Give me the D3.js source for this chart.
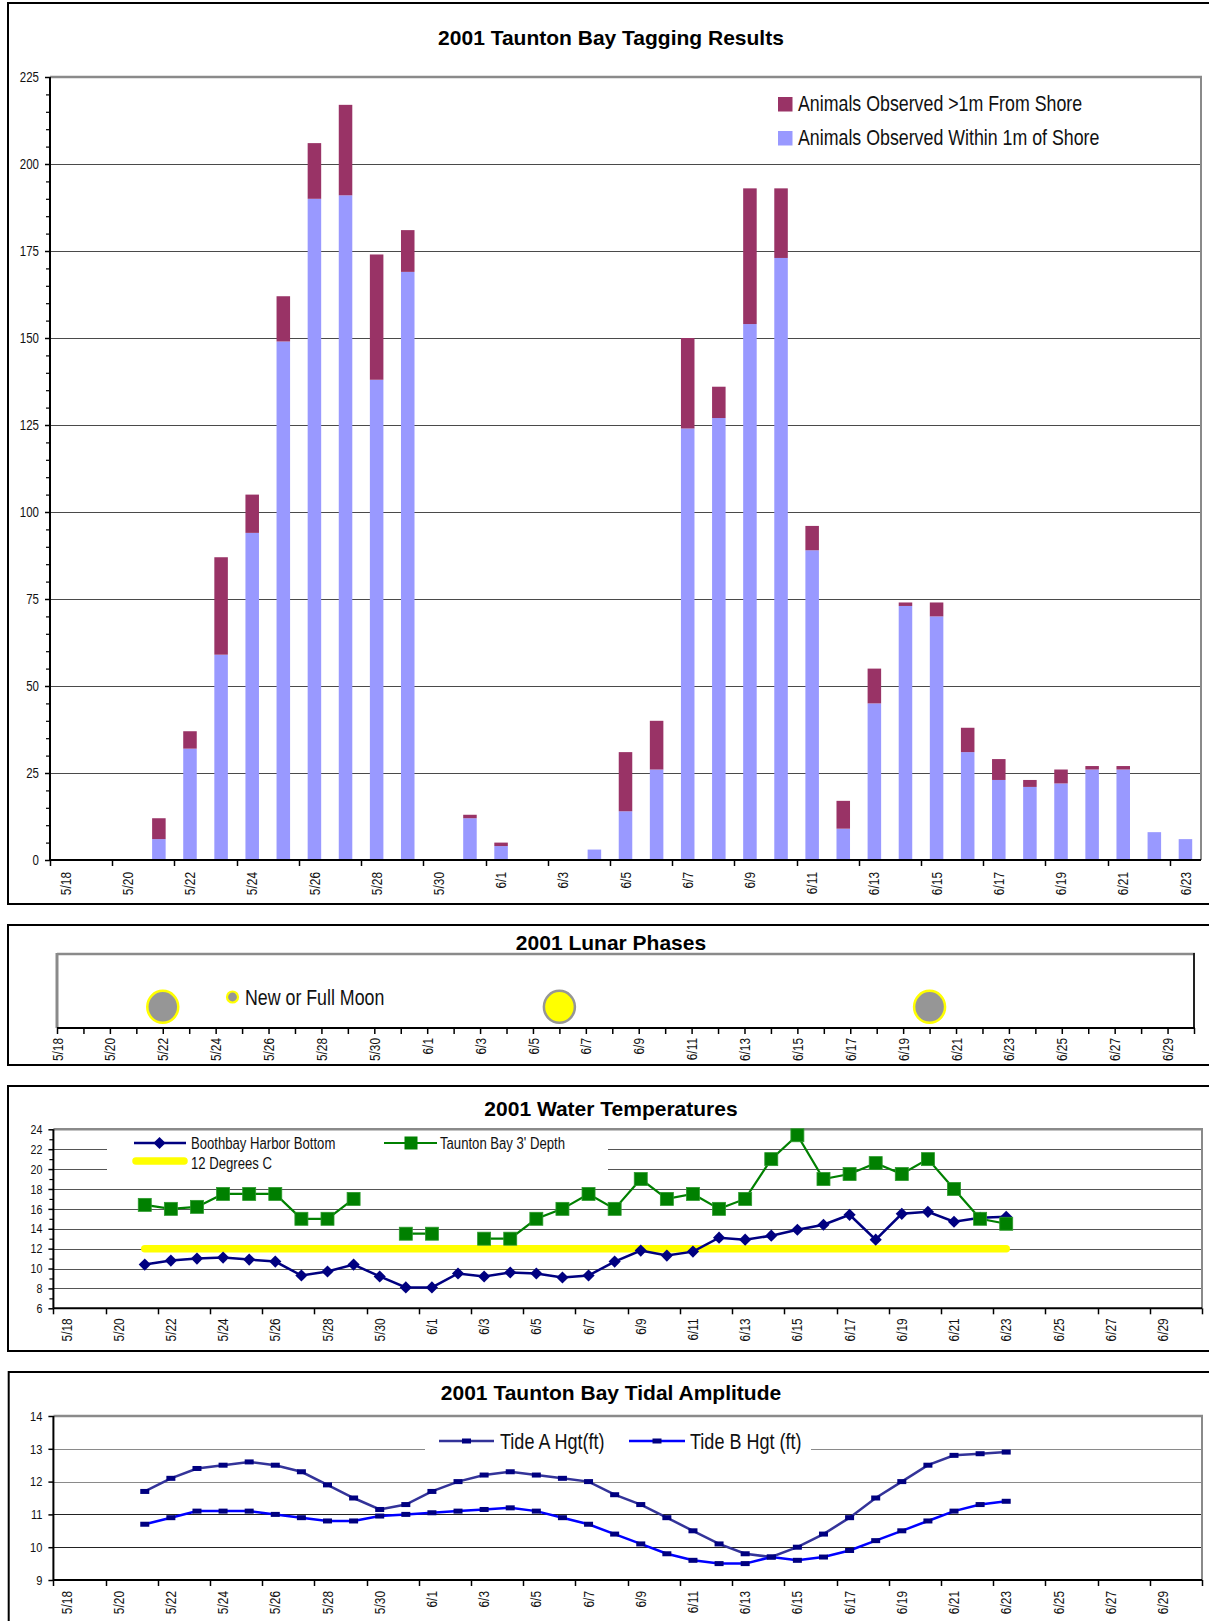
<!DOCTYPE html>
<html><head><meta charset="utf-8">
<script src="https://cdn.jsdelivr.net/npm/d3@7"></script>
<style>
body{margin:0;background:#fff;}
svg{display:block;}
text{font-family:"Liberation Sans",Arial,sans-serif;fill:#111;}
.title{font-family:"Liberation Sans",Arial,sans-serif;font-weight:bold;font-size:21px;fill:#000;}
</style></head><body>
<svg id="c" width="1209" height="1621"></svg>
<script>
// ================= DATA =================
// Chart 1: tagging results
const tagDates=["5/18","5/19","5/20","5/21","5/22","5/23","5/24","5/25","5/26","5/27","5/28","5/29","5/30","5/31",
"6/1","6/2","6/3","6/4","6/5","6/6","6/7","6/8","6/9","6/10","6/11","6/12","6/13","6/14","6/15","6/16","6/17","6/18","6/19","6/20","6/21","6/22","6/23"];
const withinShore=[0,0,0,6,32,59,94,149,190,191,138,169,0,12,4,0,0,3,14,26,124,127,154,173,89,9,45,73,70,31,23,21,22,26,26,8,6];
const beyondShore=[0,0,0,6,5,28,11,13,16,26,36,12,0,1,1,0,0,0,17,14,26,9,39,20,7,8,10,1,4,7,6,2,4,1,1,0,0];
const tagYTicks=[0,25,50,75,100,125,150,175,200,225];
const tagSeries=["Animals Observed >1m From Shore","Animals Observed Within 1m of Shore"];

// Chart 2: lunar phases
const lunarStart="2001-05-18", lunarEnd="2001-06-30";
const moonDates=["2001-05-22","2001-06-06","2001-06-20"];
const moonPhases=["new","full","new"];
const moonLevel=[1,1,1];
const lunarLegend="New or Full Moon";

// Charts 3 & 4: shared category axis
const seasonDates=["5/18","5/19","5/20","5/21","5/22","5/23","5/24","5/25","5/26","5/27","5/28","5/29","5/30","5/31",
"6/1","6/2","6/3","6/4","6/5","6/6","6/7","6/8","6/9","6/10","6/11","6/12","6/13","6/14","6/15","6/16","6/17","6/18","6/19","6/20",
"6/21","6/22","6/23","6/24","6/25","6/26","6/27","6/28","6/29","6/30"];

// Chart 3: water temperatures
const boothbayBottom=[null,null,null,10.4,10.8,11.0,11.1,10.9,10.7,9.3,9.7,10.4,9.2,8.1,
8.1,9.5,9.2,9.6,9.5,9.1,9.3,10.7,11.8,11.3,11.7,13.1,12.9,13.3,13.9,14.4,15.4,12.9,15.5,15.7,14.7,15.1,15.2,
null,null,null,null,null,null,null];
const tauntonDepth=[null,null,null,16.4,16.0,16.2,17.5,17.5,17.5,15.0,15.0,17.0,null,13.5,
13.5,null,13.0,13.0,15.0,16.0,17.5,16.0,19.0,17.0,17.5,16.0,17.0,21.0,23.4,19.0,19.5,20.6,19.5,21.0,18.0,15.0,14.5,
null,null,null,null,null,null,null];
const twelveDegrees=[null,null,null,12,12,12,12,12,12,12,12,12,12,12,
12,12,12,12,12,12,12,12,12,12,12,12,12,12,12,12,12,12,12,12,12,12,12,
null,null,null,null,null,null,null];
const tempYTicks=[6,8,10,12,14,16,18,20,22,24];
const tempSeries=["Boothbay Harbor Bottom","Taunton Bay 3' Depth","12 Degrees C"];

// Chart 4: tidal amplitude
const tideA=[null,null,null,11.7,12.1,12.4,12.5,12.6,12.5,12.3,11.9,11.5,11.15,11.3,
11.7,12.0,12.2,12.3,12.2,12.1,12.0,11.6,11.3,10.9,10.5,10.1,9.8,9.7,10.0,10.4,10.9,11.5,12.0,12.5,12.8,12.85,12.9,
null,null,null,null,null,null,null];
const tideB=[null,null,null,10.7,10.9,11.1,11.1,11.1,11.0,10.9,10.8,10.8,10.95,11.0,
11.05,11.1,11.15,11.2,11.1,10.9,10.7,10.4,10.1,9.8,9.6,9.5,9.5,9.7,9.6,9.7,9.9,10.2,10.5,10.8,11.1,11.3,11.4,
null,null,null,null,null,null,null];
const tideYTicks=[9,10,11,12,13,14];
const tideSeries=["Tide A Hgt(ft)","Tide B Hgt (ft)"];

// ================= DRAW =================
const svg=d3.select("#c");
const px=v=>Math.round(v)+0.5;
const NX=0.82; // narrow-font horizontal compression

function ntext(g,x,y,str,fs,anchor){
  return g.append("text").attr("transform",`translate(${x},${y}) scale(${NX},1)`)
    .attr("text-anchor",anchor||"start").style("font-size",fs+"px").text(str);
}
function frame(y,h,x){
  svg.append("rect").attr("x",x||8).attr("y",y).attr("width",1240).attr("height",h)
    .attr("fill","none").attr("stroke","#000").attr("stroke-width",2);
}
function title(t,y){
  svg.append("text").attr("class","title").attr("x",611).attr("y",y).attr("text-anchor","middle").text(t);
}
// category axis: labels at every 2nd category centre, ticks at category boundaries
function catAxis(g,x,cats,y0,nBound,labelGap){
  const lab=cats.filter((d,i)=>i%2===0);
  const ax=g.append("g").attr("transform",`translate(0,${y0})`)
    .call(d3.axisBottom(x).tickValues(lab).tickSize(0));
  ax.select(".domain").remove();
  ax.selectAll("text").attr("transform",`rotate(-90) scale(${NX},1)`).attr("text-anchor","end")
    .attr("x",-labelGap/NX).attr("y",0).attr("dy","0.35em").style("font-size","14.5px").attr("fill","#111")
    .style("font-family",null);
  const bounds=d3.range(0,nBound+1,2);
  g.append("g").selectAll("line").data(bounds).join("line")
    .attr("x1",i=>px(i<cats.length?x(cats[i]):x.range()[1])).attr("x2",i=>px(i<cats.length?x(cats[i]):x.range()[1]))
    .attr("y1",y0).attr("y2",y0+6).attr("stroke","#000").attr("stroke-width",1.5);
  g.append("line").attr("x1",x.range()[0]).attr("x2",x.range()[1]).attr("y1",y0).attr("y2",y0)
    .attr("stroke","#000").attr("stroke-width",2);
}
function yAxis(g,y,x0,major,minor,fs){
  const a=g.append("g").attr("transform",`translate(${x0},0)`)
    .call(d3.axisLeft(y).tickValues(major).tickSize(5).tickPadding(6).tickFormat(d3.format("d")));
  a.select(".domain").remove();
  a.selectAll("text").style("font-size",fs+"px").attr("fill","#111")
    .attr("x",-11/NX).attr("transform",`scale(${NX},1)`).style("font-family",null);
  a.selectAll("line").attr("stroke","#000").attr("stroke-width",1.5);
  if(minor){
    const m=g.append("g").attr("transform",`translate(${x0},0)`)
      .call(d3.axisLeft(y).tickValues(minor).tickSize(4).tickFormat(""));
    m.select(".domain").remove();
    m.selectAll("line").attr("stroke","#000").attr("stroke-width",1.2);
  }
  g.append("line").attr("x1",x0).attr("x2",x0).attr("y1",y.range()[0]).attr("y2",y.range()[1])
    .attr("stroke","#000").attr("stroke-width",2);
}
function grid(g,y,vals,x0,x1,col){
  g.append("g").selectAll("line").data(vals).join("line")
    .attr("x1",x0).attr("x2",x1).attr("y1",d=>px(y(d))).attr("y2",d=>px(y(d)))
    .attr("stroke",col).attr("stroke-width",1);
}
function plotBorder(g,x0,x1,y0,y1){
  g.append("line").attr("x1",x0).attr("x2",x1+1).attr("y1",y1).attr("y2",y1).attr("stroke","#8a8a8a").attr("stroke-width",2.5);
  g.append("line").attr("x1",x1).attr("x2",x1).attr("y1",y1).attr("y2",y0).attr("stroke","#8a8a8a").attr("stroke-width",2);
}

// ---------- Chart 1 ----------
frame(3,901);
title("2001 Taunton Bay Tagging Results",45);
const g1=svg.append("g");
const x1=d3.scaleBand().domain(tagDates).range([50,1201]);
const y1=d3.scaleLinear().domain([0,225]).range([860,77]);
grid(g1,y1,tagYTicks.filter(v=>v>0&&v<225),50,1201,"#4a4a4a");
plotBorder(g1,50,1201,860,77);
const stacked=d3.stack().keys(["within","beyond"])(tagDates.map((d,i)=>({date:d,within:withinShore[i],beyond:beyondShore[i]})));
const barCol={within:"#9999FF",beyond:"#993366"};
const barW=x1.bandwidth()/2.3;
g1.append("g").selectAll("g").data(stacked).join("g").attr("fill",s=>barCol[s.key])
  .selectAll("rect").data(s=>s).join("rect")
  .attr("x",d=>x1(d.data.date)+(x1.bandwidth()-barW)/2).attr("width",barW)
  .attr("y",d=>y1(d[1])).attr("height",d=>y1(d[0])-y1(d[1]));
yAxis(g1,y1,50,tagYTicks,d3.range(5,225,5).filter(v=>v%25),14);
catAxis(g1,x1,tagDates,860,36,12);
// legend
const lg1=g1.append("g");
[["#993366",tagSeries[0],97],["#9999FF",tagSeries[1],131]].forEach(([c,t,yy])=>{
  lg1.append("rect").attr("x",778).attr("y",yy).attr("width",14.5).attr("height",14.5).attr("fill",c);
  ntext(lg1,798,yy+14,t,21.7);
});

// ---------- Chart 2 ----------
frame(925,140);
title("2001 Lunar Phases",950);
const g2=svg.append("g");
const parse=d3.timeParse("%Y-%m-%d");
const x2=d3.scaleTime().domain([parse(lunarStart),parse(lunarEnd)]).range([57,1194]);
const y2=d3.scaleLinear().domain([0,3.5]).range([1028,954]);
g2.append("line").attr("x1",57).attr("x2",1195).attr("y1",954).attr("y2",954).attr("stroke","#8a8a8a").attr("stroke-width",2.5);
g2.append("line").attr("x1",57).attr("x2",57).attr("y1",953).attr("y2",1028).attr("stroke","#8a8a8a").attr("stroke-width",3);
g2.append("line").attr("x1",1194).attr("x2",1194).attr("y1",953).attr("y2",1028).attr("stroke","#222").attr("stroke-width",2);
const days=d3.timeDay.range(parse(lunarStart),d3.timeDay.offset(parse(lunarEnd),1));
const fmt=d3.timeFormat("%-m/%-d");
const ax2=g2.append("g").attr("transform","translate(0,1028)")
  .call(d3.axisBottom(x2).tickValues(days).tickSize(6).tickFormat((d,i)=>(i%2===0&&i<days.length-1)?fmt(d):""));
ax2.select(".domain").remove();
ax2.selectAll("line").attr("stroke","#000").attr("stroke-width",1.5);
ax2.selectAll("text").attr("transform",`rotate(-90) scale(${NX},1)`).attr("text-anchor","end")
  .attr("x",-10/NX).attr("y",0).attr("dy","0.35em").style("font-size","14.5px").attr("fill","#111").style("font-family",null);
g2.append("line").attr("x1",57).attr("x2",1195).attr("y1",1028).attr("y2",1028).attr("stroke","#000").attr("stroke-width",2);
g2.append("g").selectAll("ellipse").data(moonDates.map((d,i)=>({d:parse(d),p:moonPhases[i],v:moonLevel[i]}))).join("ellipse")
  .attr("cx",d=>x2(d.d)).attr("cy",d=>y2(d.v)).attr("rx",15.5).attr("ry",16)
  .attr("fill",d=>d.p==="full"?"#FFFF00":"#969696")
  .attr("stroke",d=>d.p==="full"?"#969696":"#FFFF00").attr("stroke-width",2.5);
g2.append("circle").attr("cx",232.5).attr("cy",997).attr("r",5.5).attr("fill","#969696").attr("stroke","#FFFF00").attr("stroke-width",2.2);
ntext(g2,245,1004.5,lunarLegend,21.7);

// ---------- Chart 3 ----------
frame(1086,265);
title("2001 Water Temperatures",1116);
const g3=svg.append("g");
const x3=d3.scaleBand().domain(seasonDates).range([53.4,1202]);
const y3=d3.scaleLinear().domain([6,24]).range([1308.3,1129.3]);
grid(g3,y3,tempYTicks.filter(v=>v>6&&v<24),53.4,1202,"#555");
plotBorder(g3,53.4,1202,1308.3,1129.3);
const cx3=d=>x3(d)+x3.bandwidth()/2;
// legend background
g3.append("rect").attr("x",107).attr("y",1133).attr("width",501).attr("height",44).attr("fill","#fff");
const line3=arr=>d3.line().defined(d=>d.v!=null).x(d=>cx3(d.c)).y(d=>y3(d.v))(seasonDates.map((c,i)=>({c,v:arr[i]})));
g3.append("path").attr("d",line3(twelveDegrees)).attr("fill","none").attr("stroke","#FFFF00").attr("stroke-width",7.5).attr("stroke-linecap","round");
g3.append("path").attr("d",line3(boothbayBottom)).attr("fill","none").attr("stroke","#000080").attr("stroke-width",2.5);
const diamond=d3.symbol(d3.symbolSquare,74);
g3.append("g").selectAll("path").data(seasonDates.map((c,i)=>({c,v:boothbayBottom[i]})).filter(d=>d.v!=null)).join("path")
  .attr("d",diamond).attr("transform",d=>`translate(${cx3(d.c)},${y3(d.v)}) rotate(45)`).attr("fill","#000080");
g3.append("path").attr("d",line3(tauntonDepth)).attr("fill","none").attr("stroke","#008000").attr("stroke-width",2.2);
g3.append("g").selectAll("rect").data(seasonDates.map((c,i)=>({c,v:tauntonDepth[i]})).filter(d=>d.v!=null)).join("rect")
  .attr("x",d=>cx3(d.c)-6.5).attr("y",d=>y3(d.v)-6.5).attr("width",13).attr("height",13)
  .attr("fill","#008000").attr("stroke","#2c9a2c").attr("stroke-width",0.8);
yAxis(g3,y3,53.4,tempYTicks,d3.range(7,24,2),13);
catAxis(g3,x3,seasonDates,1308.3,44,10);
// legend items
const lg3=g3.append("g");
lg3.append("line").attr("x1",134).attr("x2",186).attr("y1",1143).attr("y2",1143).attr("stroke","#000080").attr("stroke-width",2.5);
lg3.append("path").attr("d",diamond).attr("transform","translate(159.5,1143) rotate(45)").attr("fill","#000080");
ntext(lg3,191,1148.5,tempSeries[0],16);
lg3.append("line").attr("x1",384).attr("x2",437).attr("y1",1143).attr("y2",1143).attr("stroke","#008000").attr("stroke-width",2.2);
lg3.append("rect").attr("x",404.5).attr("y",1136.5).attr("width",13).attr("height",13).attr("fill","#008000");
ntext(lg3,440,1148.5,tempSeries[1],16);
lg3.append("line").attr("x1",136).attr("x2",184).attr("y1",1161).attr("y2",1161).attr("stroke","#FFFF00").attr("stroke-width",7.5).attr("stroke-linecap","round");
ntext(lg3,191,1168.5,tempSeries[2],16);

// ---------- Chart 4 ----------
frame(1372,300,8.7);
title("2001 Taunton Bay Tidal Amplitude",1400);
const g4=svg.append("g");
const x4=d3.scaleBand().domain(seasonDates).range([53.4,1202]);
const y4=d3.scaleLinear().domain([9,14]).range([1580,1416]);
const cx4=d=>x4(d)+x4.bandwidth()/2;
grid(g4,y4,[10,11],53.4,1202,"#222");
grid(g4,y4,[12,13],53.4,1202,"#8a8a8a");
plotBorder(g4,53.4,1202,1580,1416);
g4.append("rect").attr("x",425).attr("y",1428).attr("width",386).attr("height",29).attr("fill","#fff");
const line4=arr=>d3.line().defined(d=>d.v!=null).x(d=>cx4(d.c)).y(d=>y4(d.v))(seasonDates.map((c,i)=>({c,v:arr[i]})));
const tideCols=["#333399","#0000FF"];
[tideA,tideB].forEach((arr,k)=>{
  g4.append("path").attr("d",line4(arr)).attr("fill","none").attr("stroke",tideCols[k]).attr("stroke-width",2.5);
});
[tideA,tideB].forEach(arr=>{
  g4.append("g").selectAll("rect").data(seasonDates.map((c,i)=>({c,v:arr[i]})).filter(d=>d.v!=null)).join("rect")
    .attr("x",d=>cx4(d.c)-4.5).attr("y",d=>y4(d.v)-2.5).attr("width",9).attr("height",5).attr("fill","#000080");
});
yAxis(g4,y4,53.4,tideYTicks,null,13.5);
catAxis(g4,x4,seasonDates,1580,44,11);
const lg4=g4.append("g");
[[439,494,500,0],[629,685,690,1]].forEach(([a,b,t,k])=>{
  lg4.append("line").attr("x1",a).attr("x2",b).attr("y1",1441).attr("y2",1441).attr("stroke",tideCols[k]).attr("stroke-width",2.5);
  lg4.append("rect").attr("x",(a+b)/2-4.5).attr("y",1438.5).attr("width",9).attr("height",5).attr("fill","#000080");
  ntext(lg4,t,1448.5,tideSeries[k],22);
});
</script>
</body></html>
